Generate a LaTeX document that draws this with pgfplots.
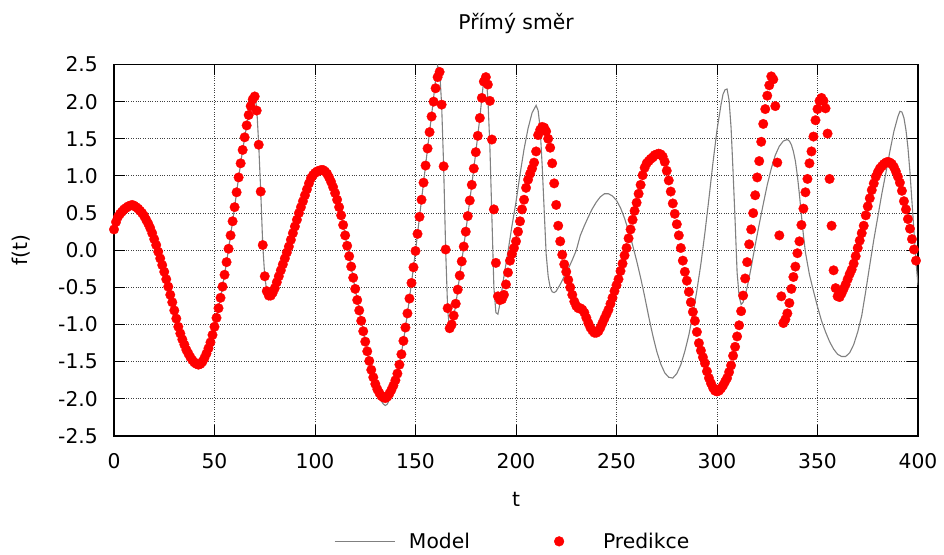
\documentclass[border=0pt]{standalone}
\usepackage{pgfplots}
\pgfplotsset{compat=1.18}
\usepackage{fontspec}
\setmainfont{DejaVu Sans}
\newcommand\ff{\fontsize{20.3}{24}\selectfont}
\begin{document}
\begin{tikzpicture}[x=1pt,y=1pt]
\path[use as bounding box] (0,0) rectangle (944,554);
\begin{axis}[
  at={(114pt,118pt)}, anchor=south west,
  scale only axis, width=804pt, height=371.5pt,
  xmin=0, xmax=400, ymin=-2.5, ymax=2.5,
  xtick={0,50,100,150,200,250,300,350,400},
  xticklabels={0,50,100,150,200,250,300,350,400},
  ytick={-2.5,-2,-1.5,-1,-0.5,0,0.5,1,1.5,2,2.5},
  yticklabels={-2.5,-2.0,-1.5,-1.0,-0.5,0.0,0.5,1.0,1.5,2.0,2.5},
  tick align=inside, major tick length=11pt,
  xtick pos=both, ytick pos=both,
  tick style={black, line width=1pt},
  axis line style={black, line width=1.3pt},
  grid=major, grid style={dotted, line width=1pt, black!75},
  xticklabel style={font=\ff, anchor=north, inner sep=0pt, yshift=-17.5pt},
  yticklabel style={font=\ff, anchor=east, inner sep=0pt, xshift=-16pt},
  title={Přímý směr},
  title style={font=\ff, at={(axis description cs:0.5,1.0775)}, anchor=base, inner sep=0pt},
  xlabel={t},
  xlabel style={font=\ff, at={(axis description cs:0.5,-0.1911)}, anchor=base, inner sep=0pt},
  ylabel={f(t)},
  ylabel style={font=\ff, at={(axis description cs:-0.1070,0.5)}, rotate=0, anchor=base, inner sep=0pt},
  legend columns=2,
  legend style={font=\ff, at={(axis description cs:0.2736,-0.3069)}, anchor=south west,
    draw=none, fill=none, inner sep=0pt, column sep=13.7pt,
    /tikz/every even column/.append style={column sep=59pt},
    nodes={inner sep=0pt}},
]
\addplot[color=black!50, line width=1.1pt,
  legend image code/.code={\draw[black!50, line width=1.1pt] (0pt,0pt) -- (60pt,0pt);}]
coordinates {
(0,0.28) (2,0.44) (4,0.53) (6,0.59) (8,0.63) (10,0.64) (12,0.60) (14,0.52) (16,0.42) (18,0.31)
(20,0.16) (22,-0.01) (24,-0.19) (26,-0.38) (28,-0.59) (30,-0.80) (32,-1.02) (34,-1.20) (36,-1.34) (38,-1.45)
(40,-1.52) (42,-1.55) (44,-1.51) (46,-1.40) (48,-1.24) (50,-1.03) (52,-0.78) (54,-0.49) (56,-0.16) (58,0.20)
(60,0.58) (62,0.98) (64,1.35) (66,1.68) (68,1.94) (69,2.04) (70,2.08) (71,1.92) (72,1.42) (73,0.79)
(74,0.07) (75,-0.35) (76,-0.55) (77,-0.61) (78,-0.62) (80,-0.52) (82,-0.36) (84,-0.19) (86,-0.03) (88,0.14)
(90,0.32) (92,0.50) (94,0.66) (96,0.82) (98,0.97) (100,1.04) (102,1.07) (104,1.08) (106,1.03) (108,0.92)
(110,0.77) (112,0.58) (114,0.34) (116,0.06) (118,-0.22) (120,-0.52) (122,-0.81) (124,-1.09) (126,-1.37) (128,-1.63)
(130,-1.85) (132,-1.99) (134,-2.07) (135,-2.09) (136,-2.07) (138,-1.95) (140,-1.76) (142,-1.54) (144,-1.22) (146,-0.85)
(148,-0.44) (150,-0.01) (152,0.45) (154,0.91) (156,1.37) (158,1.82) (159,2.05) (160,2.30) (161,2.48) (162,2.42)
(163,1.96) (164,1.13) (165,0.01) (166,-0.80) (167,-1.08) (168,-1.04) (170,-0.74) (172,-0.34) (174,0.05) (176,0.46)
(178,0.88) (180,1.32) (182,1.78) (183,2.05) (184,2.30) (185,2.36) (186,2.05) (187,1.40) (188,0.45) (189,-0.50)
(190,-0.84) (191,-0.86) (192,-0.72) (194,-0.35) (196,-0.02) (198,0.33) (200,0.65) (202,1.02) (204,1.36) (206,1.64)
(208,1.85) (210,1.95) (211,1.88) (212,1.65) (213,1.15) (214,0.55) (215,-0.05) (216,-0.35) (217,-0.50) (218,-0.56)
(219,-0.57) (220,-0.55) (222,-0.46) (224,-0.35) (226,-0.25) (228,-0.13) (230,0.00) (232,0.20) (234,0.33) (236,0.45)
(238,0.56) (240,0.65) (242,0.72) (244,0.76) (246,0.76) (248,0.73) (250,0.67) (252,0.57) (254,0.43) (256,0.26)
(258,0.07) (260,-0.14) (262,-0.37) (264,-0.62) (266,-0.89) (268,-1.14) (270,-1.36) (272,-1.53) (274,-1.65) (276,-1.71)
(278,-1.72) (280,-1.66) (282,-1.54) (284,-1.36) (286,-1.14) (288,-0.86) (290,-0.54) (292,-0.18) (294,0.24) (296,0.70)
(298,1.18) (300,1.62) (302,1.96) (303,2.10) (304,2.16) (305,2.17) (306,2.02) (307,1.65) (308,1.05) (309,0.40)
(310,-0.30) (311,-0.62) (312,-0.73) (313,-0.70) (315,-0.50) (317,-0.23) (319,0.07) (321,0.35) (323,0.62) (325,0.88)
(327,1.10) (329,1.28) (331,1.40) (333,1.47) (335,1.49) (336,1.47) (337,1.42) (338,1.33) (339,1.20) (340,1.00)
(341,0.75) (342,0.47) (343,0.20) (344,-0.03) (346,-0.33) (348,-0.55) (350,-0.76) (352,-0.95) (354,-1.10) (356,-1.23)
(358,-1.33) (360,-1.40) (362,-1.43) (364,-1.43) (366,-1.38) (368,-1.27) (370,-1.10) (372,-0.88) (374,-0.55) (376,-0.20)
(378,0.14) (380,0.45) (382,0.76) (384,1.04) (386,1.33) (388,1.60) (390,1.80) (391,1.87) (392,1.86) (393,1.78)
(394,1.62) (395,1.38) (396,1.05) (397,0.65) (398,0.25) (399,-0.15) (400,-0.47)
};
\addlegendentry{Model}
\addplot[only marks, mark=*, mark size=4.8pt, color=red, mark options={fill=red, draw=red, line width=0.3pt},
  legend image code/.code={\path (0pt,0pt) (60pt,0pt); \fill[red] (30pt,0pt) circle (4.9pt);}]
coordinates {
(0,0.28) (1,0.38) (2,0.45) (3,0.49) (4,0.52) (5,0.55) (6,0.57) (7,0.59) (8,0.60) (9,0.61)
(10,0.60) (11,0.58) (12,0.56) (13,0.53) (14,0.50) (15,0.46) (16,0.41) (17,0.36) (18,0.30) (19,0.23)
(20,0.15) (21,0.07) (22,-0.02) (23,-0.11) (24,-0.20) (25,-0.29) (26,-0.39) (27,-0.49) (28,-0.60) (29,-0.70)
(30,-0.81) (31,-0.92) (32,-1.03) (33,-1.12) (34,-1.20) (35,-1.27) (36,-1.34) (37,-1.39) (38,-1.44) (39,-1.48)
(40,-1.51) (41,-1.53) (42,-1.54) (43,-1.53) (44,-1.50) (45,-1.45) (46,-1.39) (47,-1.32) (48,-1.24) (49,-1.14)
(50,-1.03) (51,-0.91) (52,-0.78) (53,-0.64) (54,-0.49) (55,-0.33) (56,-0.16) (57,0.02) (58,0.20) (59,0.39)
(60,0.58) (61,0.78) (62,0.98) (63,1.17) (64,1.35) (65,1.52) (66,1.68) (67,1.82) (68,1.94) (69,2.03)
(70,2.07) (71,1.88) (72,1.42) (73,0.79) (74,0.07) (75,-0.35) (76,-0.55) (77,-0.61) (78,-0.61) (79,-0.57)
(80,-0.51) (81,-0.43) (82,-0.35) (83,-0.27) (84,-0.19) (85,-0.11) (86,-0.03) (87,0.05) (88,0.14) (89,0.23)
(90,0.32) (91,0.41) (92,0.50) (93,0.58) (94,0.66) (95,0.74) (96,0.82) (97,0.90) (98,0.97) (99,1.01)
(100,1.04) (101,1.06) (102,1.07) (103,1.08) (104,1.08) (105,1.06) (106,1.03) (107,0.98) (108,0.92) (109,0.85)
(110,0.77) (111,0.68) (112,0.58) (113,0.47) (114,0.34) (115,0.20) (116,0.06) (117,-0.08) (118,-0.22) (119,-0.37)
(120,-0.52) (121,-0.67) (122,-0.81) (123,-0.95) (124,-1.09) (125,-1.23) (126,-1.36) (127,-1.49) (128,-1.61) (129,-1.71)
(130,-1.80) (131,-1.87) (132,-1.92) (133,-1.96) (134,-1.98) (135,-1.99) (136,-1.97) (137,-1.93) (138,-1.88) (139,-1.82)
(140,-1.75) (141,-1.66) (142,-1.54) (143,-1.40) (144,-1.22) (145,-1.04) (146,-0.85) (147,-0.65) (148,-0.44) (149,-0.23)
(150,-0.01) (151,0.22) (152,0.45) (153,0.68) (154,0.91) (155,1.14) (156,1.37) (157,1.59) (158,1.80) (159,2.00)
(160,2.18) (161,2.33) (162,2.40) (163,1.96) (164,1.13) (165,0.01) (166,-0.78) (167,-1.05) (168,-1.00) (169,-0.88)
(170,-0.72) (171,-0.53) (172,-0.34) (173,-0.15) (174,0.05) (175,0.25) (176,0.46) (177,0.67) (178,0.88) (179,1.10)
(180,1.32) (181,1.54) (182,1.78) (183,2.05) (184,2.27) (185,2.33) (186,2.23) (187,2.01) (188,1.49) (189,0.55)
(190,-0.17) (191,-0.62) (192,-0.67) (193,-0.66) (194,-0.60) (195,-0.46) (196,-0.30) (197,-0.14) (198,-0.05) (199,0.03)
(200,0.12) (201,0.25) (202,0.39) (203,0.55) (204,0.68) (205,0.84) (206,0.95) (207,1.03) (208,1.10) (209,1.18)
(210,1.33) (211,1.55) (212,1.62) (213,1.66) (214,1.65) (215,1.60) (216,1.50) (217,1.38) (218,1.17) (219,0.90)
(220,0.61) (221,0.33) (222,0.12) (223,-0.06) (224,-0.19) (225,-0.29) (226,-0.40) (227,-0.50) (228,-0.60) (229,-0.69)
(230,-0.75) (231,-0.78) (232,-0.78) (233,-0.80) (234,-0.84) (235,-0.91) (236,-0.98) (237,-1.04) (238,-1.08) (239,-1.11)
(240,-1.11) (241,-1.09) (242,-1.04) (243,-0.98) (244,-0.92) (245,-0.86) (246,-0.80) (247,-0.72) (248,-0.64) (249,-0.55)
(250,-0.47) (251,-0.39) (252,-0.28) (253,-0.18) (254,-0.07) (255,0.03) (256,0.16) (257,0.28) (258,0.41) (259,0.53)
(260,0.64) (261,0.76) (262,0.88) (263,1.01) (264,1.11) (265,1.17) (266,1.20) (267,1.23) (268,1.25) (269,1.28)
(270,1.29) (271,1.30) (272,1.29) (273,1.26) (274,1.19) (275,1.07) (276,0.94) (277,0.79) (278,0.63) (279,0.49)
(280,0.35) (281,0.20) (282,0.03) (283,-0.14) (284,-0.29) (285,-0.41) (286,-0.56) (287,-0.70) (288,-0.83) (289,-0.95)
(290,-1.10) (291,-1.25) (292,-1.35) (293,-1.44) (294,-1.52) (295,-1.63) (296,-1.72) (297,-1.79) (298,-1.85) (299,-1.89)
(300,-1.90) (301,-1.89) (302,-1.86) (303,-1.82) (304,-1.77) (305,-1.72) (306,-1.64) (307,-1.55) (308,-1.42) (309,-1.30)
(310,-1.16) (311,-1.01) (312,-0.82) (313,-0.61) (314,-0.38) (315,-0.16) (316,0.08) (317,0.28) (318,0.50) (319,0.74)
(320,0.98) (321,1.20) (322,1.46) (323,1.70) (324,1.90) (325,2.08) (326,2.22) (327,2.34) (328,2.30) (329,1.94)
(330,1.18) (331,0.20) (332,-0.62) (333,-0.98) (334,-0.93) (335,-0.85) (336,-0.71) (337,-0.52) (338,-0.36) (339,-0.22)
(340,-0.04) (341,0.12) (342,0.34) (343,0.56) (344,0.78) (345,0.96) (346,1.17) (347,1.33) (348,1.53) (349,1.75)
(350,1.90) (351,2.01) (352,2.05) (353,2.01) (354,1.91) (355,1.57) (356,0.96) (357,0.33) (358,-0.27) (359,-0.51)
(360,-0.62) (361,-0.63) (362,-0.58) (363,-0.52) (364,-0.46) (365,-0.39) (366,-0.32) (367,-0.26) (368,-0.18) (369,-0.08)
(370,0.03) (371,0.13) (372,0.23) (373,0.33) (374,0.47) (375,0.59) (376,0.70) (377,0.81) (378,0.90) (379,0.99)
(380,1.05) (381,1.10) (382,1.13) (383,1.16) (384,1.18) (385,1.19) (386,1.18) (387,1.16) (388,1.12) (389,1.06)
(390,0.99) (391,0.91) (392,0.80) (393,0.66) (394,0.55) (395,0.42) (396,0.29) (397,0.15) (398,0.01) (399,-0.14)
};
\addlegendentry{Predikce}
\end{axis}
\end{tikzpicture}
\end{document}
